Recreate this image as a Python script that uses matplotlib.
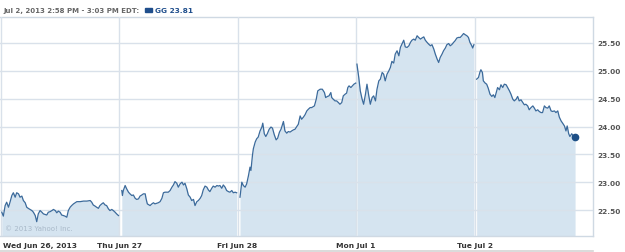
import matplotlib
matplotlib.use("Agg")
import matplotlib.pyplot as plt
import matplotlib.transforms as mtransforms
from matplotlib.patches import Rectangle
from matplotlib.lines import Line2D
import numpy as np

plt.rcParams['font.family'] = ['DejaVu Sans']

# ---- data: minutes after 9:30 open, price ----
day_labels = ["Wed Jun 26, 2013", "Thu Jun 27", "Fri Jun 28", "Mon Jul 1", "Tue Jul 2"]

d0_min = [4, 9, 15, 20, 26, 31, 37, 42, 48, 53, 59, 64, 70, 75, 81, 86, 91, 97, 103, 108,
          114, 119, 124, 130, 136, 141, 152, 157, 163, 169, 174, 180, 185, 190, 196, 201, 207,
          212, 218, 223, 229, 234, 240, 251, 262, 273, 284, 295, 300, 305, 311, 316, 322, 327,
          333, 338, 344, 349, 355, 360, 366, 371, 377, 382, 388]
d0_px = [22.46, 22.39, 22.58, 22.64, 22.55, 22.64, 22.76, 22.81, 22.73, 22.81, 22.79, 22.73,
         22.75, 22.67, 22.63, 22.55, 22.53, 22.51, 22.49, 22.46, 22.40, 22.29, 22.43, 22.49,
         22.46, 22.43, 22.41, 22.46, 22.47, 22.49, 22.51, 22.49, 22.45, 22.48, 22.46, 22.41,
         22.40, 22.39, 22.37, 22.49, 22.55, 22.58, 22.61, 22.65, 22.65, 22.66, 22.66, 22.67,
         22.64, 22.59, 22.57, 22.55, 22.53, 22.58, 22.61, 22.63, 22.59, 22.58, 22.52, 22.49,
         22.51, 22.49, 22.46, 22.43, 22.40]

d1_min = [9, 11, 14, 20, 25, 31, 36, 42, 47, 53, 58, 64, 69, 75, 80, 86, 89, 93, 102, 108,
          113, 118, 129, 135, 141, 146, 151, 162, 168, 174, 179, 184, 190, 195, 201, 207, 212,
          217, 223, 228, 234, 239, 245, 250, 256, 261, 267, 272, 277, 283, 289, 294, 299, 305,
          310, 316, 322, 327, 332, 338, 343, 349, 354, 360, 365, 371, 376, 382, 387]
d1_px = [22.85, 22.76, 22.85, 22.94, 22.88, 22.82, 22.79, 22.76, 22.77, 22.71, 22.69, 22.70,
         22.75, 22.77, 22.79, 22.79, 22.70, 22.61, 22.58, 22.61, 22.63, 22.61, 22.63, 22.65,
         22.71, 22.81, 22.82, 22.82, 22.85, 22.91, 22.95, 23.01, 22.98, 22.91, 22.97, 23.00,
         22.95, 22.98, 22.88, 22.77, 22.73, 22.67, 22.69, 22.58, 22.65, 22.67, 22.71, 22.76,
         22.86, 22.93, 22.91, 22.86, 22.83, 22.89, 22.93, 22.91, 22.94, 22.93, 22.94, 22.89,
         22.95, 22.91, 22.85, 22.83, 22.82, 22.85, 22.81, 22.82, 22.81]

d2_min = [8, 14, 19, 25, 30, 36, 41, 44, 49, 52, 58, 63, 68, 74, 80, 83, 88, 93, 98, 104,
          110, 115, 121, 127, 132, 138, 143, 151, 156, 162, 167, 173, 178, 184, 189, 195, 200,
          206, 211, 217, 222, 228, 233, 239, 244, 253, 259, 264, 272, 279, 286, 290, 296, 301,
          307, 310, 315, 321, 326, 332, 337, 343, 348, 354, 359, 363, 367, 373, 378, 383, 389]
d2_px = [22.73, 23.00, 22.94, 22.91, 22.97, 23.12, 23.27, 23.21, 23.48, 23.60, 23.72, 23.78,
         23.81, 23.92, 23.99, 24.06, 23.87, 23.82, 23.87, 23.95, 23.99, 23.97, 23.85, 23.76,
         23.79, 23.90, 23.95, 24.09, 23.92, 23.88, 23.91, 23.90, 23.92, 23.94, 23.95, 24.00,
         24.04, 24.19, 24.13, 24.17, 24.21, 24.28, 24.31, 24.34, 24.34, 24.37, 24.49, 24.64,
         24.67, 24.67, 24.61, 24.52, 24.54, 24.55, 24.61, 24.52, 24.49, 24.46, 24.46, 24.43,
         24.40, 24.43, 24.55, 24.58, 24.60, 24.70, 24.73, 24.70, 24.73, 24.76, 24.78]

d3_min = [3, 9, 14, 20, 25, 31, 36, 42, 47, 53, 58, 64, 69, 75, 80, 86, 91, 96, 102, 108,
          113, 118, 124, 129, 135, 141, 146, 151, 157, 162, 168, 174, 179, 184, 190, 195, 201,
          206, 212, 217, 223, 228, 234, 239, 245, 250, 256, 261, 267, 272, 277, 283, 288, 294,
          299, 305, 310, 315, 321, 326, 332, 337, 343, 348, 354, 359, 365, 370, 375, 381, 384, 388]
d3_px = [25.12, 24.88, 24.64, 24.49, 24.40, 24.58, 24.76, 24.55, 24.40, 24.52, 24.55, 24.46,
         24.67, 24.82, 24.85, 24.97, 24.94, 24.82, 24.94, 25.00, 25.06, 25.17, 25.14, 25.30,
         25.36, 25.27, 25.42, 25.48, 25.55, 25.43, 25.42, 25.45, 25.51, 25.55, 25.57, 25.55,
         25.63, 25.60, 25.57, 25.59, 25.61, 25.55, 25.51, 25.48, 25.45, 25.47, 25.39, 25.30,
         25.21, 25.15, 25.24, 25.30, 25.36, 25.41, 25.47, 25.49, 25.45, 25.47, 25.51, 25.54,
         25.59, 25.60, 25.60, 25.63, 25.67, 25.65, 25.63, 25.60, 25.51, 25.45, 25.41, 25.47]

d4_min = [7, 13, 18, 21, 26, 29, 35, 40, 45, 51, 57, 62, 67, 73, 76, 82, 87, 93, 98, 104,
          109, 115, 120, 126, 131, 137, 142, 147, 153, 159, 164, 169, 175, 180, 186, 192, 197,
          202, 208, 213, 219, 224, 230, 235, 241, 246, 252, 257, 263, 268, 274, 279, 285, 290,
          296, 301, 305, 310, 314, 320, 325, 331]
d4_px = [24.85, 24.88, 24.98, 25.02, 24.97, 24.82, 24.78, 24.76, 24.69, 24.58, 24.54, 24.57,
         24.52, 24.64, 24.70, 24.66, 24.75, 24.70, 24.76, 24.75, 24.70, 24.64, 24.58, 24.49,
         24.46, 24.49, 24.54, 24.46, 24.48, 24.43, 24.39, 24.40, 24.37, 24.30, 24.34, 24.37,
         24.33, 24.28, 24.30, 24.27, 24.25, 24.25, 24.37, 24.34, 24.33, 24.37, 24.28, 24.27,
         24.28, 24.25, 24.28, 24.17, 24.10, 24.06, 24.01, 23.92, 24.01, 23.87, 23.82, 23.87,
         23.83, 23.81]

days_min = [d0_min, d1_min, d2_min, d3_min, d4_min]
days_px = [d0_px, d1_px, d2_px, d3_px, d4_px]
y_ticks = [22.50, 23.00, 23.50, 24.00, 24.50, 25.00, 25.50]
session_minutes = 390
last_price = 23.81

# ---- styling ----
line_c = "#3b6a9b"
fill_c = "#d5e4f0"
grid_c = "#d9e1ea"

W, H = 625, 253
fig = plt.figure(figsize=(W / 100, H / 100), dpi=100)
ax = fig.add_axes([0.0, 16 / H, 593 / W, (237 - 18) / H])

ymin, ymax = 22.033, 25.967
for d, (mins, pxs) in enumerate(zip(days_min, days_px)):
    x = d + np.array(mins) / session_minutes
    y = np.array(pxs)
    ax.fill_between(x, y, ymin, color=fill_c, lw=0, zorder=1)
    ax.plot(x, y, color=line_c, lw=0.9, zorder=3)

# last point marker
ax.plot([4 + d4_min[-1] / session_minutes], [d4_px[-1]], 'o', color="#1d4f86",
        ms=4.5, zorder=4)

ax.set_xlim(-0.005, 5.0)
ax.set_ylim(ymin, ymax)

# grid
ax.set_yticks(y_ticks)
ax.set_xticks(range(5))
ax.grid(True, color=grid_c, lw=1.0, zorder=2)
ax.set_axisbelow(False)
for gl in ax.get_xgridlines() + ax.get_ygridlines():
    gl.set_zorder(2)

ax.yaxis.tick_right()
ax.set_yticklabels([f"{v:.2f}" for v in y_ticks], fontsize=5.3, fontweight='bold',
                   color="#555555")
ax.set_xticklabels(day_labels, fontsize=5.4, fontweight='bold', color="#333333")
ax.tick_params(axis='both', length=0)
ax.tick_params(axis='y', pad=3)
ax.tick_params(axis='x', pad=4)
lbls = ax.get_xticklabels()
lbls[0].set_horizontalalignment('left')
lbls[0].set_transform(lbls[0].get_transform() +
                      mtransforms.ScaledTranslation(2 / 72, 0, fig.dpi_scale_trans))

for s in ax.spines.values():
    s.set_color("#cfd9e3")
    s.set_linewidth(1.0)
ax.spines['left'].set_visible(False)

# copyright
ax.text(0.008, 0.025, "\u00a9 2013 Yahoo! Inc.", transform=ax.transAxes, fontsize=5.0,
        color="#a9b9c9", ha='left', va='bottom', zorder=5)

# header
fig.text(3 / W, 1 - 11 / H, "Jul 2, 2013 2:58 PM - 3:03 PM EDT:", fontsize=5.05,
         fontweight='bold', color="#666666", ha='left', va='center')
fig.patches.append(Rectangle((145 / W, 1 - 13 / H), 7 / W, 4 / H, transform=fig.transFigure,
                             color="#1f4e8c", figure=fig))
fig.text(155 / W, 1 - 11 / H, f"GG {last_price:.2f}", fontsize=5.3, fontweight='bold',
         color="#1f4e8c", ha='left', va='center')

# bottom separator line
fig.add_artist(Line2D([0, 593 / W], [1.5 / H, 1.5 / H], transform=fig.transFigure,
                      color="#d4d4d4", lw=1.2))

fig.savefig("out.png", dpi=100)
